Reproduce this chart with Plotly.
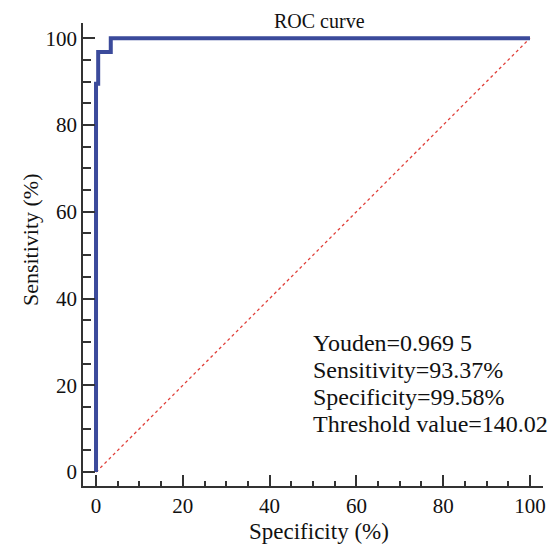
import plotly.graph_objects as go

# ROC curve data (x = "Specificity (%)" as labelled, y = Sensitivity %)
roc_x = [0, 0, 0.5, 0.5, 3.4, 3.4, 100]
roc_y = [0, 89.5, 89.5, 96.8, 96.8, 100, 100]
diag_x = [0, 100]
diag_y = [0, 100]
tick_vals = [0, 20, 40, 60, 80, 100]
stats_lines = ["Youden=0.969 5", "Sensitivity=93.37%", "Specificity=99.58%", "Threshold value=140.02"]

FONT = "Liberation Serif, Times New Roman, serif"

fig = go.Figure()
fig.add_trace(go.Scatter(x=diag_x, y=diag_y, mode="lines",
                         line=dict(color="#e0403a", width=1.3, dash="dot"),
                         hoverinfo="skip", showlegend=False))
fig.add_trace(go.Scatter(x=roc_x, y=roc_y, mode="lines",
                         line=dict(color="#3b4a9b", width=4),
                         showlegend=False))

axis_common = dict(
    showgrid=False, zeroline=False, showline=True, linecolor="#333333", linewidth=1.5,
    ticks="inside", tickcolor="#333333", tickwidth=1.5,
    tickvals=tick_vals, tickfont=dict(family=FONT, size=21, color="#111111"),
    mirror=False,
)

fig.update_xaxes(**axis_common, range=[-3.0, 103.0], ticklen=11,
                 minor=dict(ticks="inside", ticklen=5, dtick=5, tickcolor="#333333", tickwidth=1.5))
fig.update_yaxes(**axis_common, range=[-3.2, 103.5], ticklen=12,
                 minor=dict(ticks="inside", ticklen=8, dtick=5, tickcolor="#333333", tickwidth=1.5))

annotations = [
    dict(text="ROC curve", x=0.515, y=1.004, xref="paper", yref="paper",
         xanchor="center", yanchor="middle", showarrow=False,
         font=dict(family=FONT, size=20, color="#111111")),
    dict(text="Specificity (%)", x=0.512, y=-(531 - 486) / 463, xref="paper", yref="paper",
         xanchor="center", yanchor="middle", showarrow=False,
         font=dict(family=FONT, size=23, color="#111111")),
    dict(text="Sensitivity (%)", x=-0.115, y=(486 - 240) / 463, xref="paper", yref="paper",
         xanchor="center", yanchor="middle", showarrow=False, textangle=-90,
         font=dict(family=FONT, size=22, color="#111111")),
]
line_centers = [343, 370, 397, 424]
for txt, yc in zip(stats_lines, line_centers):
    annotations.append(dict(text=txt, x=(311 - 83) / 460, y=(486 - yc) / 463,
                            xref="paper", yref="paper", xanchor="left", yanchor="middle",
                            showarrow=False, font=dict(family=FONT, size=24, color="#111111")))

fig.update_layout(
    width=558, height=548,
    margin=dict(l=83, r=15, t=23, b=62),
    paper_bgcolor="white", plot_bgcolor="white",
    annotations=annotations,
)

fig.write_html("out.html")
